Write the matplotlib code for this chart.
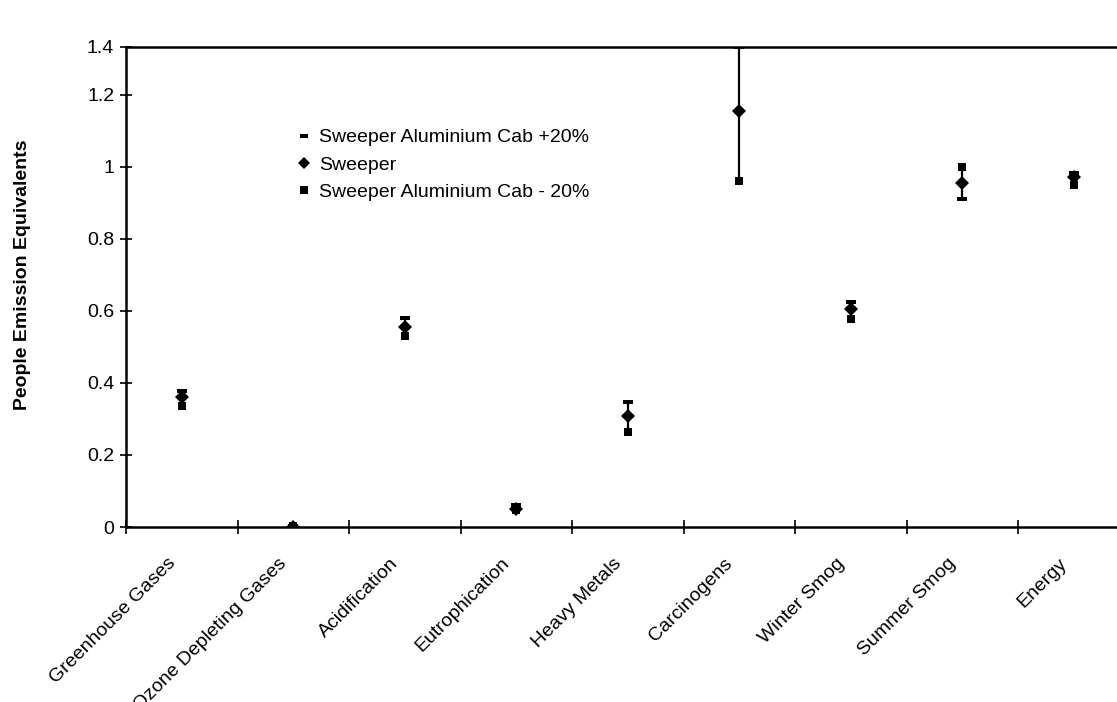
import matplotlib
matplotlib.use("Agg")
import matplotlib.pyplot as plt
from matplotlib.path import Path
from matplotlib.transforms import ScaledTranslation
import numpy as np

plt.rcParams['font.family'] = ['Liberation Sans', 'DejaVu Sans']

categories = ["Greenhouse Gases", "Ozone Depleting Gases", "Acidification",
              "Eutrophication", "Heavy Metals", "Carcinogens", "Winter Smog",
              "Summer Smog", "Energy"]
cab_plus20 = [0.378, 0.002, 0.580, 0.061, 0.346, 1.334, 0.624, 0.911, 0.984]
sweeper = [0.361, 0.001, 0.556, 0.050, 0.308, 1.154, 0.605, 0.955, 0.973]
cab_minus20 = [0.337, 0.002, 0.531, 0.047, 0.265, 0.962, 0.579, 1.000, 0.951]

y_ticks = [0, 0.2, 0.4, 0.6, 0.8, 1.0, 1.2]
y_tick_labels = ["0", "0.2", "0.4", "0.6", "0.8", "1", "1.2"]
y_top = 1.333
y_top_label = "1.4"

FS = 14

fig = plt.figure(figsize=(11.17, 7.02), dpi=100)
W, H = 1117, 702
ax = fig.add_axes([126 / W, 1 - 527 / H, (1129.5 - 126) / W, 480 / H])

x = np.arange(len(categories))
lo = np.minimum(cab_plus20, cab_minus20)
hi = np.maximum(cab_plus20, cab_minus20)

# high-low connector between the +20% and -20% variants
ax.vlines(x, lo, hi, color="black", lw=1.6, zorder=2)

dash = Path([[-1, -0.45], [1, -0.45], [1, 0.45], [-1, 0.45], [-1, -0.45]],
            [Path.MOVETO, Path.LINETO, Path.LINETO, Path.LINETO, Path.CLOSEPOLY])

h1, = ax.plot(x, cab_plus20, ls="none", marker=dash, ms=7, color="black",
              mec="black", mew=0, zorder=5, label="Sweeper Aluminium Cab +20%")
h2, = ax.plot(x, sweeper, ls="none", marker="D", ms=7.5, color="black",
              mec="black", mew=0, zorder=3, label="Sweeper")
h3, = ax.plot(x, cab_minus20, ls="none", marker="s", ms=6, color="black",
              mec="black", mew=0, zorder=4, label="Sweeper Aluminium Cab - 20%")

ax.set_xlim(-0.5, len(categories) - 0.5)
ax.set_ylim(0, y_top)

ax.set_yticks(y_ticks + [y_top])
ax.set_yticklabels(y_tick_labels + [y_top_label])
ax.tick_params(axis="y", direction="inout", length=9, width=1.2,
               labelsize=FS, pad=4)

ax.set_xticks(np.arange(len(categories) + 1) - 0.5)
ax.set_xticklabels([])
ax.set_xticks(x, minor=True)
ax.set_xticklabels(categories, minor=True, rotation=45, ha="right",
                   va="top", rotation_mode="anchor", fontsize=FS)
ax.tick_params(axis="x", which="major", direction="inout", length=10,
               width=1.2)
ax.tick_params(axis="x", which="minor", length=0, pad=20)
shift = ScaledTranslation(-15 / 100, 0, fig.dpi_scale_trans)
for lbl in ax.get_xticklabels(minor=True):
    lbl.set_transform(lbl.get_transform() + shift)

for side in ["left", "bottom", "top"]:
    ax.spines[side].set_linewidth(1.8)
    ax.spines[side].set_color("black")
ax.spines["right"].set_visible(False)

ax.set_ylabel("People Emission Equivalents", fontsize=FS, fontweight="bold")
ax.yaxis.set_label_coords(-0.095, 0.525)

leg = ax.legend(handles=[h1, h2, h3], loc="upper left",
                bbox_to_anchor=((290 - 126) / 1003.5, (527 - 121) / 480),
                frameon=False, fontsize=FS, handlelength=0.6,
                handletextpad=0.5, labelspacing=0.5, borderaxespad=0,
                markerscale=0.85)

fig.savefig("out.png", dpi=100)
